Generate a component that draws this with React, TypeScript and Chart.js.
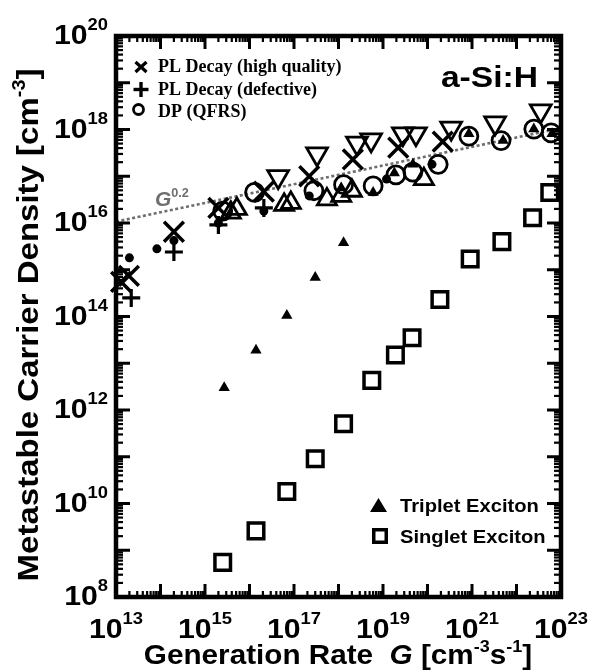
import React, { useEffect, useRef } from "react";
import { Chart, registerables } from "chart.js";

Chart.register(...registerables);

// ---------- axis ranges & tick labels ----------
const G_MIN = 1e13;
const G_MAX = 1e23;
const N_MIN = 1e8;
const N_MAX = 1e20;
const xLabelExponents = [13, 15, 17, 19, 21, 23];
const yLabelExponents = [8, 10, 12, 14, 16, 18, 20];

// ---------- data ----------
// PL Decay (high quality)  — X
const plHighG = [1.3e13, 1.95e13, 2.0e14, 2.0e15, 2.1e16, 2.2e17, 2.1e18, 2.2e19, 2.2e20];
const plHighN = [5.5e14, 7.4e14, 6.5e15, 2.1e16, 4.7e16, 1.0e17, 2.3e17, 4.1e17, 5.5e17];

// PL Decay (defective) — +
const plDefG = [2.2e13, 2.0e14, 2.0e15, 2.1e16];
const plDefN = [2.5e14, 2.4e15, 9.1e15, 2.1e16];

// DP (QFRS) — open circles
const dpG = [2.5e15, 1.3e16, 2.8e17, 1.3e18, 6.0e18, 1.95e19, 4.7e19, 1.74e20, 8.5e20, 4.5e21, 2.45e22, 6.0e22];
const dpN = [1.8e16, 4.5e16, 4.9e16, 6.6e16, 6.2e16, 1.07e17, 1.23e17, 1.8e17, 7.2e17, 5.8e17, 1.02e18, 8.5e17];

// open up-triangles
const upTriG = [3.8e15, 5.2e15, 6.0e16, 8.5e16, 5.5e17, 1.15e18, 2.0e18, 8.3e19];
const upTriN = [1.66e16, 2.0e16, 2.45e16, 2.7e16, 3.2e16, 3.8e16, 4.9e16, 8.7e16];

// open down-triangles
const downTriG = [4.4e16, 3.3e17, 2.6e18, 5.4e18, 2.8e19, 5.5e19, 3.4e20, 3.3e21, 3.5e22];
const downTriN = [9.8e16, 3.0e17, 5.1e17, 6.0e17, 8.1e17, 8.1e17, 1.07e18, 1.38e18, 2.5e18];

// small filled dots
const dotG = [2.0e13, 8.3e13, 2.0e14, 2.0e15, 2.1e16, 2.2e17, 1.2e19, 1.26e20];
const dotN = [1.8e15, 2.8e15, 4.2e15, 1.0e16, 1.8e16, 3.8e16, 8.7e16, 1.8e17];

// Triplet Exciton — filled triangles
const tripletG = [2.7e15, 1.4e16, 6.9e16, 3.0e17, 1.3e18, 1.15e18, 6.0e18, 1.8e19, 4.7e19, 8.5e20, 5.0e21, 2.45e22, 6.3e22];
const tripletN = [3.0e12, 1.9e13, 1.05e14, 6.8e14, 3.8e15, 5.6e16, 4.5e16, 1.17e17, 1.8e17, 8.1e17, 5.8e17, 1.02e18, 8.1e17];

// Singlet Exciton — open squares
const singletG = [2.5e15, 1.4e16, 6.9e16, 3.0e17, 1.3e18, 5.6e18, 1.9e19, 4.5e19, 1.9e20, 9.1e20, 4.7e21, 2.3e22, 5.6e22];
const singletN = [5.5e8, 2.6e9, 1.8e10, 9.1e10, 5.1e11, 4.3e12, 1.5e13, 3.5e13, 2.3e14, 1.7e15, 4.0e15, 1.3e16, 4.5e16];

// G^0.2 guide line
const guideG = [1e13, 1e23];
const guideN = [1.07e16, 1.07e18];

// text
const legendTopLabels = ["PL Decay (high quality)", "PL Decay (defective)", "DP (QFRS)"];
const legendBottomLabels = ["Triplet Exciton", "Singlet Exciton"];
const sampleLabel = "a-Si:H";

const zip = (xs: number[], ys: number[]) => xs.map((x, i) => ({ x, y: ys[i] }));

const SANS = '"Liberation Sans", Arial, sans-serif';
const SERIF = '"Liberation Serif", "Times New Roman", serif';

type Run = { t: string; font: string; dy?: number };

function drawRuns(
  ctx: CanvasRenderingContext2D,
  runs: Run[],
  x: number,
  y: number,
  align: "left" | "center" | "right",
  stretch = 1,
  color = "#000"
) {
  const widths = runs.map((r) => {
    ctx.font = r.font;
    return ctx.measureText(r.t).width;
  });
  const total = widths.reduce((a, b) => a + b, 0);
  ctx.save();
  ctx.translate(x, y);
  ctx.scale(stretch, 1);
  ctx.fillStyle = color;
  ctx.textAlign = "left";
  ctx.textBaseline = "alphabetic";
  let cx = align === "left" ? 0 : align === "center" ? -total / 2 : -total;
  runs.forEach((r, i) => {
    ctx.font = r.font;
    ctx.fillText(r.t, cx, r.dy || 0);
    cx += widths[i];
  });
  ctx.restore();
}

const decorPlugin = {
  id: "decor",
  afterDatasetsDraw(chart: any) {
    const { ctx, chartArea: a, scales } = chart;
    const xs = scales.x;
    const ys = scales.y;
    ctx.save();
    ctx.strokeStyle = "#000";
    ctx.lineCap = "butt";
    const line = (x1: number, y1: number, x2: number, y2: number, w: number) => {
      ctx.lineWidth = w;
      ctx.beginPath();
      ctx.moveTo(x1, y1);
      ctx.lineTo(x2, y2);
      ctx.stroke();
    };
    // x ticks (inward, bottom & top)
    for (let e = 13; e < 23; e++) {
      for (let m = 1; m <= 9; m++) {
        const px = xs.getPixelForValue(m * Math.pow(10, e));
        const major = m === 1;
        const len = major ? 13 : 6;
        const w = major ? 3 : 2.2;
        line(px, a.bottom, px, a.bottom - len, w);
        line(px, a.top, px, a.top + len, w);
      }
    }
    // y ticks (inward, left & right)
    for (let e = 8; e < 20; e++) {
      for (let m = 1; m <= 9; m++) {
        const py = ys.getPixelForValue(m * Math.pow(10, e));
        const major = m === 1;
        const len = major ? 14 : 7;
        const w = major ? 3 : 2.2;
        line(a.left, py, a.left + len, py, w);
        line(a.right, py, a.right - len, py, w);
      }
    }
    // frame
    ctx.lineWidth = 4.5;
    ctx.strokeRect(a.left, a.top, a.right - a.left, a.bottom - a.top);

    const baseFont = `bold 28px ${SANS}`;
    const supFont = `bold 17px ${SANS}`;
    // y tick labels
    yLabelExponents.forEach((e) => {
      const py = ys.getPixelForValue(Math.pow(10, e));
      drawRuns(
        ctx,
        [
          { t: "10", font: baseFont },
          { t: String(e), font: supFont, dy: -14 },
        ],
        108,
        py + 8,
        "right",
        1.08
      );
    });
    // x tick labels
    xLabelExponents.forEach((e) => {
      const px = xs.getPixelForValue(Math.pow(10, e));
      drawRuns(
        ctx,
        [
          { t: "10", font: baseFont },
          { t: String(e), font: supFont, dy: -14 },
        ],
        px,
        a.bottom + 41,
        "center",
        1.08
      );
    });

    // axis titles
    const tFont = `bold 28px ${SANS}`;
    const tItal = `italic bold 28px ${SANS}`;
    const tSup = `bold 17px ${SANS}`;
    drawRuns(
      ctx,
      [
        { t: "Generation Rate  ", font: tFont },
        { t: "G", font: tItal },
        { t: " [cm", font: tFont },
        { t: "-3", font: tSup, dy: -12 },
        { t: "s", font: tFont },
        { t: "-1", font: tSup, dy: -12 },
        { t: "]", font: tFont },
      ],
      338,
      664,
      "center",
      1.06
    );
    const yFont = `bold 30px ${SANS}`;
    ctx.save();
    ctx.translate(38, 325);
    ctx.rotate(-Math.PI / 2);
    drawRuns(
      ctx,
      [
        { t: "Metastable Carrier Density [cm", font: yFont },
        { t: "-3", font: `bold 18px ${SANS}`, dy: -13 },
        { t: "]", font: yFont },
      ],
      0,
      0,
      "center",
      1.1
    );
    ctx.restore();

    // sample label
    drawRuns(ctx, [{ t: sampleLabel, font: `bold 30px ${SANS}` }], 538, 87, "right", 1.12);

    // G^0.2 label
    drawRuns(
      ctx,
      [
        { t: "G", font: `italic bold 20px ${SANS}` },
        { t: "0.2", font: `bold 12px ${SANS}`, dy: -9 },
      ],
      155,
      206,
      "left",
      1.05,
      "#6e6e6e"
    );

    // top-left legend
    const lf = `bold 18px ${SERIF}`;
    ctx.fillStyle = "#000";
    // X marker
    line(135.5, 62, 146.5, 72, 3.2);
    line(146.5, 62, 135.5, 72, 3.2);
    // + marker
    line(133.5, 89.5, 148.5, 89.5, 3.4);
    line(141, 82, 141, 97, 3.4);
    // circle marker
    ctx.lineWidth = 2.8;
    ctx.beginPath();
    ctx.arc(138.5, 109.5, 5, 0, Math.PI * 2);
    ctx.stroke();
    drawRuns(ctx, [{ t: legendTopLabels[0], font: lf }], 158, 72, "left");
    drawRuns(ctx, [{ t: legendTopLabels[1], font: lf }], 158, 95, "left");
    drawRuns(ctx, [{ t: legendTopLabels[2], font: lf }], 158, 117, "left");

    // bottom-right legend
    ctx.fillStyle = "#000";
    ctx.beginPath();
    ctx.moveTo(378.5, 498);
    ctx.lineTo(387, 512);
    ctx.lineTo(370, 512);
    ctx.closePath();
    ctx.fill();
    ctx.lineWidth = 3.5;
    ctx.strokeRect(373.75, 529.75, 12.5, 12.5);
    const bf = `bold 18px ${SANS}`;
    drawRuns(ctx, [{ t: legendBottomLabels[0], font: bf }], 400, 512, "left", 1.12);
    drawRuns(ctx, [{ t: legendBottomLabels[1], font: bf }], 400, 543, "left", 1.12);

    ctx.restore();
  },
};

export default function App() {
  const ref = useRef<HTMLCanvasElement | null>(null);
  useEffect(() => {
    if (!ref.current) return;
    const open = "rgba(0,0,0,0)";
    const chart = new Chart(ref.current, {
      type: "scatter",
      data: {
        datasets: [
          {
            label: "G^0.2",
            data: zip(guideG, guideN),
            showLine: true,
            borderColor: "#6e6e6e",
            borderWidth: 2.6,
            borderDash: [3, 2.5],
            pointRadius: 0,
            order: 10,
          } as any,
          {
            label: "Singlet Exciton",
            data: zip(singletG, singletN),
            pointStyle: "rect",
            pointRadius: 11,
            borderWidth: 3.5,
            borderColor: "#000",
            backgroundColor: open,
          },
          {
            label: "Up triangles",
            data: zip(upTriG, upTriN),
            pointStyle: "triangle",
            pointRadius: 11,
            borderWidth: 2.8,
            borderColor: "#000",
            backgroundColor: open,
          },
          {
            label: "Down triangles",
            data: zip(downTriG, downTriN),
            pointStyle: "triangle",
            rotation: 180,
            pointRadius: 12,
            borderWidth: 2.8,
            borderColor: "#000",
            backgroundColor: open,
          },
          {
            label: "DP (QFRS)",
            data: zip(dpG, dpN),
            pointStyle: "circle",
            pointRadius: 9,
            borderWidth: 2.8,
            borderColor: "#000",
            backgroundColor: open,
          },
          {
            label: "Triplet Exciton",
            data: zip(tripletG, tripletN),
            pointStyle: "triangle",
            pointRadius: 6.5,
            borderWidth: 0,
            borderColor: "#000",
            backgroundColor: "#000",
          },
          {
            label: "dots",
            data: zip(dotG, dotN),
            pointStyle: "circle",
            pointRadius: 4.5,
            borderWidth: 0,
            borderColor: "#000",
            backgroundColor: "#000",
          },
          {
            label: "PL Decay (defective)",
            data: zip(plDefG, plDefN),
            pointStyle: "cross",
            pointRadius: 9,
            borderWidth: 3.2,
            borderColor: "#000",
            backgroundColor: open,
          },
          {
            label: "PL Decay (high quality)",
            data: zip(plHighG, plHighN),
            pointStyle: "crossRot",
            pointRadius: 14,
            borderWidth: 3.5,
            borderColor: "#000",
            backgroundColor: open,
          },
        ].map((d: any) => ({ clip: false, ...d })),
      },
      options: {
        responsive: false,
        animation: false,
        events: [],
        layout: { padding: { left: 116, right: 593 - 561, top: 36, bottom: 671 - 597 } },
        plugins: { legend: { display: false }, tooltip: { enabled: false } },
        scales: {
          x: { type: "logarithmic", min: G_MIN, max: G_MAX, display: false },
          y: { type: "logarithmic", min: N_MIN, max: N_MAX, display: false },
        },
      },
      plugins: [decorPlugin],
    });
    return () => chart.destroy();
  }, []);
  return (
    <canvas
      ref={ref}
      width={593}
      height={671}
      style={{ position: "fixed", left: 0, top: 0, width: 593, height: 671, display: "block" }}
    />
  );
}
